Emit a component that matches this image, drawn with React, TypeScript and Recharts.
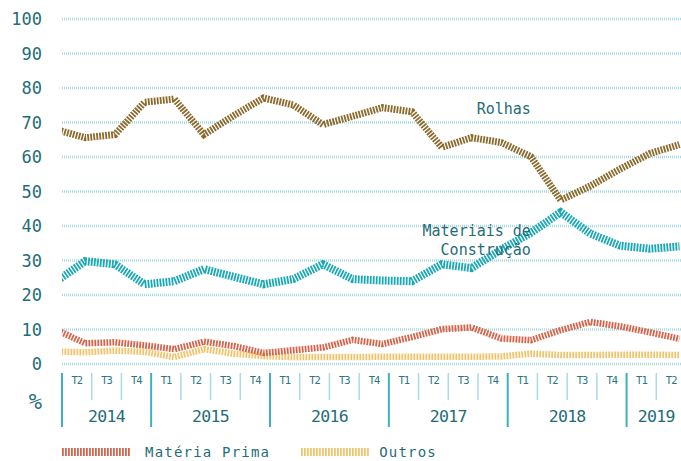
import React from 'react';
import { LineChart, Line, XAxis, YAxis, CartesianGrid, ReferenceDot, Legend } from 'recharts';

// ---- data ----
const quarters = [
  '2014 T1', '2014 T2', '2014 T3', '2014 T4',
  '2015 T1', '2015 T2', '2015 T3', '2015 T4',
  '2016 T1', '2016 T2', '2016 T3', '2016 T4',
  '2017 T1', '2017 T2', '2017 T3', '2017 T4',
  '2018 T1', '2018 T2', '2018 T3', '2018 T4',
  '2019 T1', '2019 T2',
];
const rolhas = [68.0, 65.6, 66.5, 75.9, 76.8, 66.5, 72.0, 77.1, 75.1, 69.4, 71.8, 74.3, 73.1, 62.8, 65.6, 64.2, 60.1, 47.5, 51.6, 56.5, 61.0, 63.6];
const materiais = [23.8, 29.8, 28.9, 23.1, 24.0, 27.5, 25.3, 23.1, 24.6, 28.9, 24.6, 24.2, 24.0, 28.9, 27.8, 33.2, 38.0, 44.0, 37.8, 34.3, 33.4, 34.1];
const materiaPrima = [10.0, 6.0, 6.3, 5.4, 4.3, 6.5, 5.2, 3.2, 4.0, 4.8, 7.0, 5.8, 7.8, 10.1, 10.6, 7.4, 6.9, 9.8, 12.2, 10.9, 9.2, 7.3];
const outros = [3.6, 3.4, 3.9, 3.5, 2.0, 4.3, 3.0, 2.3, 2.0, 2.0, 2.0, 2.1, 2.1, 2.1, 2.1, 2.2, 3.0, 2.6, 2.6, 2.7, 2.7, 2.6];
const yTicks = [0, 10, 20, 30, 40, 50, 60, 70, 80, 90, 100];
const years = ['2014', '2015', '2016', '2017', '2018', '2019'];

// axis starts at 2014 T2 (index 1); each point sits slightly before the end of its quarter cell
const POINT_SHIFT = -0.22;
const axisQuarters = quarters.slice(1);
const qLabels = axisQuarters.map((q) => q.split(' ')[1]);
const qYears = axisQuarters.map((q) => q.split(' ')[0]);
const qCenters = axisQuarters.map((_, i) => i + 0.5);
const sepTicks = Array.from({ length: axisQuarters.length + 1 }, (_, i) => i);
const yearCenters = years.map((y) => {
  const idx = qYears.map((v, i) => (v === y ? i : -1)).filter((i) => i >= 0);
  return (idx[0] + idx[idx.length - 1] + 1) / 2;
});

const data = quarters.map((q, k) => ({
  x: k + POINT_SHIFT,
  q,
  rolhas: rolhas[k],
  materiais: materiais[k],
  materiaPrima: materiaPrima[k],
  outros: outros[k],
}));

const FONT = "'DejaVu Sans Mono', 'Liberation Mono', monospace";
const TEXT = '#1f6d78';
const DASH = '1.8 1.2';
const PLOT_BOTTOM = 364;

const QuarterTick = (props: any) => {
  const { x, index } = props;
  return (
    <text x={x} y={PLOT_BOTTOM + 20} textAnchor="middle" fontFamily={FONT} fontSize={10.5} letterSpacing={-1} fill="#2a7682">
      {qLabels[index]}
    </text>
  );
};

const SepTick = (props: any) => {
  const { x, index } = props;
  const isYear = index === 0 || qLabels[index] === 'T1';
  return (
    <line
      x1={x}
      x2={x}
      y1={PLOT_BOTTOM + 9}
      y2={PLOT_BOTTOM + (isYear ? 63 : 36)}
      stroke={isYear ? '#3fb1bd' : '#a8dce3'}
      strokeWidth={isYear ? 2 : 1.5}
    />
  );
};

const YearTick = (props: any) => {
  const { x, index } = props;
  return (
    <text x={x} y={PLOT_BOTTOM + 58} textAnchor="middle" fontFamily={FONT} fontSize={16.5} letterSpacing={-0.7} fill={TEXT}>
      {years[index]}
    </text>
  );
};

const legendOrder = ['Matéria Prima', 'Outros'];
const renderLegend = (props: any) => {
  const items = [...(props.payload || [])]
    .filter((a: any) => legendOrder.includes(a.value))
    .sort((a: any, b: any) => legendOrder.indexOf(a.value) - legendOrder.indexOf(b.value));
  return (
    <div style={{ display: 'flex', alignItems: 'center', paddingLeft: 62, height: 16, whiteSpace: 'nowrap' }}>
      {items.map((e: any, i: number) => (
        <div key={e.value} style={{ display: 'flex', alignItems: 'center', marginLeft: i === 0 ? 0 : 31 }}>
          <svg width={69} height={10} style={{ display: 'block' }}>
            <line x1={0} x2={69} y1={5} y2={5} stroke={e.color} strokeWidth={8} strokeDasharray={DASH} />
          </svg>
          <span
            style={{
              marginLeft: i === 0 ? 14 : 9,
              fontFamily: FONT,
              fontSize: 14,
              letterSpacing: 1.2,
              color: TEXT,
              lineHeight: '16px',
            }}
          >
            {e.value}
          </span>
        </div>
      ))}
    </div>
  );
};

const TextMark = (text: string) => (p: any) => (
  <text x={p.cx} y={p.cy} textAnchor="end" fontFamily={FONT} fontSize={15} fill={TEXT}>
    {text}
  </text>
);

const commonX = {
  dataKey: 'x',
  type: 'number' as const,
  domain: [0, axisQuarters.length],
  allowDataOverflow: true,
  interval: 0 as const,
  height: 1,
  axisLine: false,
  tickLine: false,
  tickSize: 0,
  tickMargin: 0,
};

export default function App() {
  return (
    <div style={{ position: 'absolute', left: 0, top: 0, width: 681, height: 461, overflow: 'hidden', background: '#fff' }}>
      <LineChart width={700} height={461} data={data} margin={{ top: 19, right: 14, bottom: 94, left: 0 }}>
        <CartesianGrid vertical={false} stroke="#a9dbe2" strokeWidth={2.5} strokeDasharray="1 1" />
        <YAxis
          domain={[0, 100]}
          ticks={yTicks}
          width={62}
          axisLine={false}
          tickLine={false}
          tickSize={0}
          tickMargin={20}
          interval={0}
          tick={{ fill: TEXT, fontSize: 17, fontFamily: FONT }}
          label={{
            content: (p: any) => (
              <text x={(p.viewBox?.x ?? 0) + 42} y={PLOT_BOTTOM + 45} textAnchor="end" fontFamily={FONT} fontSize={22} fill={TEXT}>
                %
              </text>
            ),
          }}
        />
        <XAxis {...commonX} ticks={qCenters} tick={<QuarterTick />} />
        <XAxis {...commonX} xAxisId="sep" ticks={sepTicks} tick={<SepTick />} />
        <XAxis {...commonX} xAxisId="year" ticks={yearCenters} tick={<YearTick />} />
        <Line type="linear" dataKey="outros" name="Outros" stroke="#f2c46c" strokeWidth={6.5} strokeDasharray={DASH} dot={false} activeDot={false} isAnimationActive={false} />
        <Line type="linear" dataKey="materiaPrima" name="Matéria Prima" stroke="#d6644b" strokeWidth={6.5} strokeDasharray={DASH} dot={false} activeDot={false} isAnimationActive={false} />
        <Line type="linear" dataKey="materiais" name="Materiais de Construção" legendType="none" stroke="#1aa8b4" strokeWidth={8} strokeDasharray={DASH} dot={false} activeDot={false} isAnimationActive={false} />
        <Line type="linear" dataKey="rolhas" name="Rolhas" legendType="none" stroke="#8c6a2c" strokeWidth={7} strokeDasharray={DASH} dot={false} activeDot={false} isAnimationActive={false} />
        <ReferenceDot x={15.78} y={72.5} r={0} shape={TextMark('Rolhas')} />
        <ReferenceDot x={15.78} y={37.1} r={0} shape={TextMark('Materiais de')} />
        <ReferenceDot x={15.78} y={31.6} r={0} shape={TextMark('Construção')} />
        <Legend
          layout="vertical"
          align="center"
          verticalAlign="middle"
          content={renderLegend}
          wrapperStyle={{ left: 0, top: 444, width: 681, height: 16 }}
        />
      </LineChart>
    </div>
  );
}
